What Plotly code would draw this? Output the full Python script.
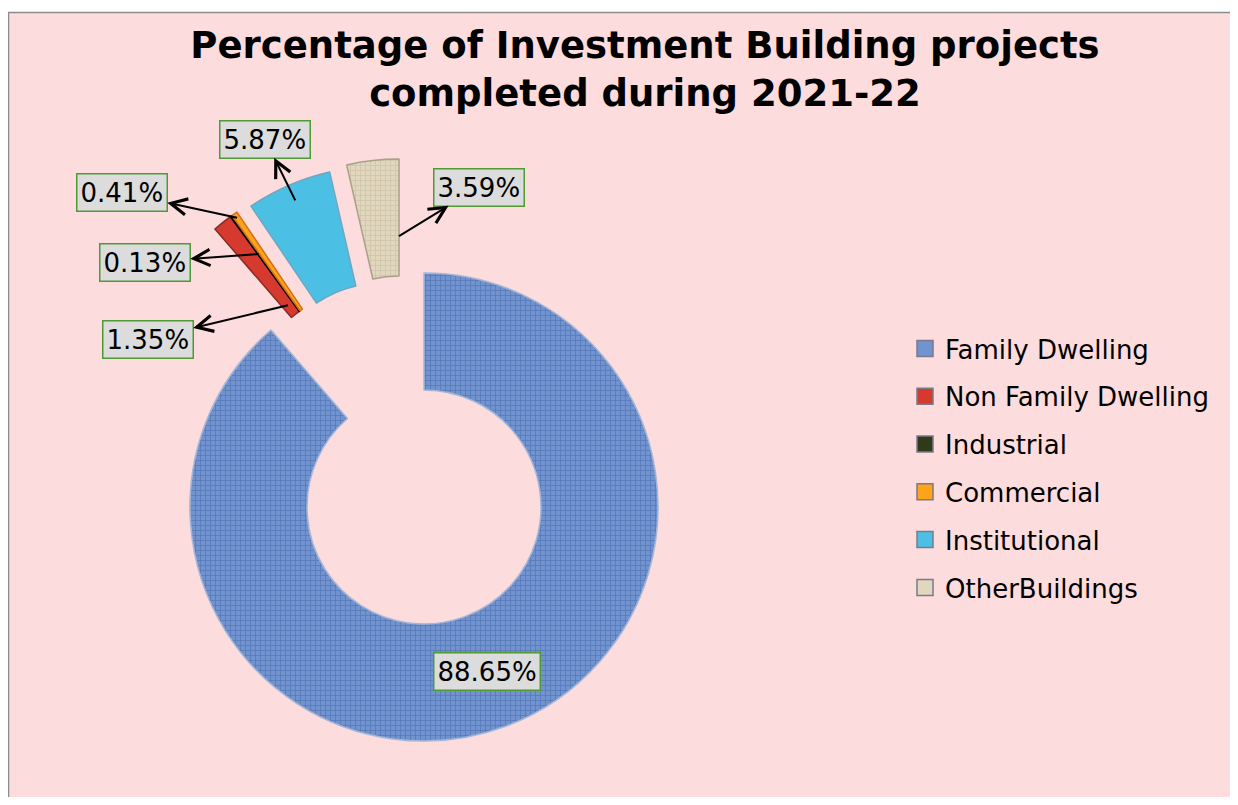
import math
import plotly.graph_objects as go

# ---------------- data ----------------
labels = ["Family Dwelling", "Non Family Dwelling", "Industrial", "Commercial",
          "Institutional", "OtherBuildings"]
values = [88.65, 1.35, 0.13, 0.41, 5.87, 3.59]
title_lines = ["Percentage of Investment Building projects", "completed during 2021-22"]

# ---------------- style ----------------
colors = ["#7193cf", "#d63a2f", "#2f3a18", "#ffa31a", "#4cc0e4", "#e1d7be"]
edge_colors = ["#a4b6d6", "#8a2a22", "#000000", "#d0701a", "#6fa6c0", "#a8a08a"]
texture = ["+", "", "", "", "", "+"]
texture_fg = ["#3f5f9e", "rgba(0,0,0,0)", "rgba(0,0,0,0)", "rgba(0,0,0,0)",
              "rgba(0,0,0,0)", "#bfb396"]
FONT = "DejaVu Sans"
PAGE_W, PAGE_H = 1238, 805
OFF = 8                      # browser body margin
W, H = PAGE_W - OFF, PAGE_H - 2 * OFF
R = 234                      # outer radius in px
HOLE = 0.5


def fx(px):
    return (px - OFF) / W


def fy(py):
    return 1 - (py - OFF) / H


# exploded slice groups: slice indices -> virtual centre (page px)
groups = [
    ([0], (424, 507)),
    ([5], (399, 393)),
    ([4], (382, 400)),
    ([1, 2, 3], (368, 406)),
]
# label boxes (page px centre) and anchor on slice (fraction of slice angle, fraction of radius)
label_box = {0: (487, 671), 5: (479, 187), 4: (265, 139), 3: (122, 193), 2: (145, 262), 1: (148, 339)}
anchor = {5: (1.0, 0.67), 4: (0.5, 0.93), 3: (0.5, 0.98), 2: (0.5, 0.80), 1: (0.5, 0.55)}

total = sum(values)
centre_of = {}
for idx, c in groups:
    for i in idx:
        centre_of[i] = c

fig = go.Figure()

# background panel with border
fig.add_shape(type="rect", xref="paper", yref="paper",
              x0=fx(8.5), x1=1.02, y0=-0.02, y1=fy(12.5),
              fillcolor="#fcdcdc", line=dict(color="#8c8c8c", width=1.5), layer="below")

for idx, (cx, cy) in groups:
    n = len(values)
    cols = [colors[i] if i in idx else "rgba(0,0,0,0)" for i in range(n)]
    lcols = [edge_colors[i] if i in idx else "rgba(0,0,0,0)" for i in range(n)]
    lw = [1.5 if i in idx else 0 for i in range(n)]
    shp = [texture[i] if i in idx else "" for i in range(n)]
    fgc = [texture_fg[i] if i in idx else "rgba(0,0,0,0)" for i in range(n)]
    fig.add_trace(go.Pie(
        labels=labels, values=values, sort=False, direction="clockwise", rotation=0,
        hole=HOLE, textinfo="none", showlegend=False,
        hoverinfo="label+percent",
        marker=dict(colors=cols, line=dict(color=lcols, width=lw),
                    pattern=dict(shape=shp, fgcolor=fgc, fillmode="overlay",
                                 size=5, solidity=0.3, fgopacity=0.5)),
        domain=dict(x=[fx(cx - R), fx(cx + R)], y=[fy(cy + R), fy(cy - R)]),
    ))

# legend entries
for i, lab in enumerate(labels):
    fig.add_trace(go.Scatter(
        x=[None], y=[None], mode="markers", name=lab, legendgroup=lab,
        marker=dict(symbol="square", size=16, color=colors[i],
                    line=dict(color="#7a7a8a", width=1.5)),
        showlegend=True, hoverinfo="skip"))

# data labels
cum = 0.0
starts = []
for v in values:
    starts.append(cum)
    cum += v
for i, v in enumerate(values):
    txt = f"{v:.2f}%"
    bx, by = label_box[i]
    common = dict(text=txt, xref="paper", yref="paper",
                  font=dict(family=FONT, size=26, color="#000000"),
                  bgcolor="#dcdcdc", bordercolor="#4f9a35", borderwidth=1.5, borderpad=3)
    if i not in anchor:
        fig.add_annotation(x=fx(bx), y=fy(by), showarrow=False,
                           xanchor="center", yanchor="middle", **common)
        continue
    fa, fr = anchor[i]
    phi = math.radians((starts[i] + fa * v) / total * 360.0)
    cx, cy = centre_of[i]
    tx = cx + fr * R * math.sin(phi)
    ty = cy - fr * R * math.cos(phi)
    fig.add_annotation(x=fx(tx), y=fy(ty), ax=bx - tx, ay=by - ty,
                       showarrow=True, arrowside="start", startarrowhead=5,
                       startarrowsize=1.6, arrowwidth=2, arrowcolor="#000000", **common)

fig.update_layout(
    width=W, height=H,
    margin=dict(l=0, r=0, t=0, b=0),
    paper_bgcolor="#ffffff", plot_bgcolor="rgba(0,0,0,0)",
    title=dict(text="<b>" + "<br>".join(title_lines) + "</b>",
               font=dict(family=FONT, size=37, color="#000000"),
               x=fx(645), xanchor="center", xref="paper",
               y=fy(58), yanchor="top", yref="container"),
    xaxis=dict(visible=False), yaxis=dict(visible=False),
    legend=dict(x=fx(905), y=fy(325), xanchor="left", yanchor="top",
                font=dict(family=FONT, size=26, color="#000000"),
                bgcolor="rgba(0,0,0,0)", traceorder="grouped", tracegroupgap=11),
    font=dict(family=FONT),
)

fig.write_html("out.html")
